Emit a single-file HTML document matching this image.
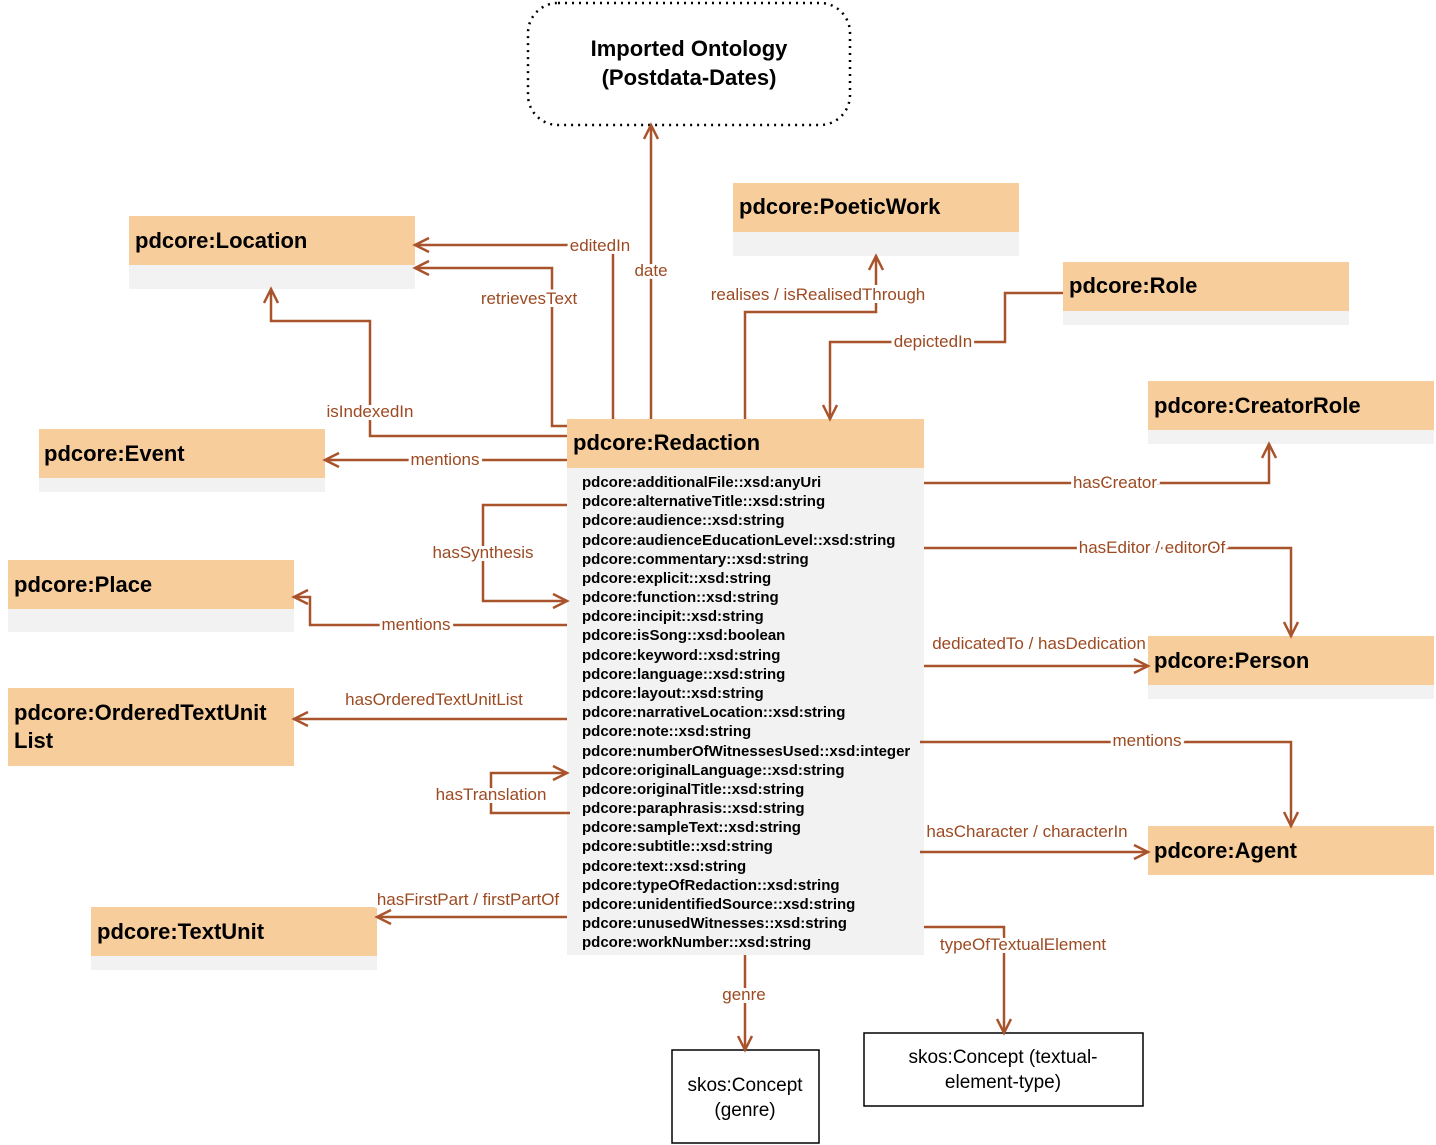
<!DOCTYPE html>
<html><head><meta charset="utf-8"><style>
body{margin:0;background:#fff}
svg{display:block;font-family:"Liberation Sans",sans-serif}
.h{font-weight:bold;font-size:22px;fill:#000}
.a{font-weight:bold;font-size:15px;fill:#000}
.l{font-size:17px;fill:#9c4a22}
.c{font-size:19px;fill:#000}
</style></head><body>
<svg width="1436" height="1145" viewBox="0 0 1436 1145" xmlns="http://www.w3.org/2000/svg">
<defs><marker id="m" markerWidth="20" markerHeight="20" refX="16" refY="8" orient="auto" markerUnits="userSpaceOnUse"><path d="M2 1 L16 8 L2 15" fill="none" stroke="#a8532c" stroke-width="2.5"/></marker></defs>
<rect x="528" y="3" width="322" height="122" rx="30" fill="#fff" stroke="#000" stroke-width="2.5" stroke-dasharray="2 5"/>
<text x="689" y="56" text-anchor="middle" class="h">Imported Ontology</text>
<text x="689" y="85" text-anchor="middle" class="h">(Postdata-Dates)</text>
<g fill="#f2f2f2">
<rect x="129" y="265" width="286" height="24"/><rect x="733" y="232" width="286" height="24"/>
<rect x="1063" y="311" width="286" height="14"/><rect x="1148" y="430" width="286" height="14"/>
<rect x="39" y="478" width="286" height="14"/><rect x="567" y="468" width="357" height="487"/>
<rect x="8" y="609" width="286" height="23"/><rect x="1148" y="685" width="286" height="14"/>
<rect x="91" y="956" width="286" height="14"/>
</g>
<g fill="#f8cd9c">
<rect x="129" y="216" width="286" height="49"/><rect x="733" y="183" width="286" height="49"/>
<rect x="1063" y="262" width="286" height="49"/><rect x="1148" y="381" width="286" height="49"/>
<rect x="39" y="429" width="286" height="49"/><rect x="567" y="419" width="357" height="49"/>
<rect x="8" y="560" width="286" height="49"/><rect x="1148" y="636" width="286" height="49"/>
<rect x="8" y="688" width="286" height="78"/><rect x="1148" y="826" width="286" height="49"/>
<rect x="91" y="907" width="286" height="49"/>
</g>
<text x="135" y="248" class="h">pdcore:Location</text>
<text x="739" y="214" class="h">pdcore:PoeticWork</text>
<text x="1069" y="293" class="h">pdcore:Role</text>
<text x="1154" y="413" class="h">pdcore:CreatorRole</text>
<text x="44" y="461" class="h">pdcore:Event</text>
<text x="573" y="450" class="h">pdcore:Redaction</text>
<text x="14" y="592" class="h">pdcore:Place</text>
<text x="1154" y="668" class="h">pdcore:Person</text>
<text x="14" y="720" class="h">pdcore:OrderedTextUnit</text>
<text x="14" y="748" class="h">List</text>
<text x="1154" y="858" class="h">pdcore:Agent</text>
<text x="97" y="939" class="h">pdcore:TextUnit</text>
<g class="a">
<text x="582" y="487" class="a">pdcore:additionalFile::xsd:anyUri</text>
<text x="582" y="506" class="a">pdcore:alternativeTitle::xsd:string</text>
<text x="582" y="525" class="a">pdcore:audience::xsd:string</text>
<text x="582" y="545" class="a">pdcore:audienceEducationLevel::xsd:string</text>
<text x="582" y="564" class="a">pdcore:commentary::xsd:string</text>
<text x="582" y="583" class="a">pdcore:explicit::xsd:string</text>
<text x="582" y="602" class="a">pdcore:function::xsd:string</text>
<text x="582" y="621" class="a">pdcore:incipit::xsd:string</text>
<text x="582" y="640" class="a">pdcore:isSong::xsd:boolean</text>
<text x="582" y="660" class="a">pdcore:keyword::xsd:string</text>
<text x="582" y="679" class="a">pdcore:language::xsd:string</text>
<text x="582" y="698" class="a">pdcore:layout::xsd:string</text>
<text x="582" y="717" class="a">pdcore:narrativeLocation::xsd:string</text>
<text x="582" y="736" class="a">pdcore:note::xsd:string</text>
<text x="582" y="756" class="a">pdcore:numberOfWitnessesUsed::xsd:integer</text>
<text x="582" y="775" class="a">pdcore:originalLanguage::xsd:string</text>
<text x="582" y="794" class="a">pdcore:originalTitle::xsd:string</text>
<text x="582" y="813" class="a">pdcore:paraphrasis::xsd:string</text>
<text x="582" y="832" class="a">pdcore:sampleText::xsd:string</text>
<text x="582" y="851" class="a">pdcore:subtitle::xsd:string</text>
<text x="582" y="871" class="a">pdcore:text::xsd:string</text>
<text x="582" y="890" class="a">pdcore:typeOfRedaction::xsd:string</text>
<text x="582" y="909" class="a">pdcore:unidentifiedSource::xsd:string</text>
<text x="582" y="928" class="a">pdcore:unusedWitnesses::xsd:string</text>
<text x="582" y="947" class="a">pdcore:workNumber::xsd:string</text>
</g>
<rect x="672" y="1050" width="147" height="93" fill="#fff" stroke="#000" stroke-width="1.5"/>
<text x="745" y="1091" text-anchor="middle" class="c">skos:Concept</text>
<text x="745" y="1116" text-anchor="middle" class="c">(genre)</text>
<rect x="864" y="1033" width="279" height="73" fill="#fff" stroke="#000" stroke-width="1.5"/>
<text x="1003" y="1063" text-anchor="middle" class="c">skos:Concept (textual-</text>
<text x="1003" y="1088" text-anchor="middle" class="c">element-type)</text>
<g fill="none" stroke="#a8532c" stroke-width="2.5" marker-end="url(#m)">
<path d="M613 419 V245 H415"/>
<path d="M567 426 H552 V268 H415"/>
<path d="M651 419 V125"/>
<path d="M745 419 V312 H876 V256"/>
<path d="M1063 293 H1005 V342 H830 V419"/>
<path d="M567 436 H370 V321 H271 V289"/>
<path d="M567 460 H325"/>
<path d="M567 505 H483 V601 H567"/>
<path d="M567 625 H310 V597 H294"/>
<path d="M567 719 H294"/>
<path d="M570 813 H491 V773 H567"/>
<path d="M567 917 H377"/>
<path d="M745 955 V1050"/>
<path d="M924 927 H1004 V1033"/>
<path d="M924 483 H1269 V444"/>
<path d="M924 548 H1291 V636"/>
<path d="M924 666 H1148"/>
<path d="M920 742 H1291 V826"/>
<path d="M920 852 H1148"/>
</g>
<g class="l" text-anchor="middle" style="paint-order:stroke" stroke="#fff" stroke-width="6">
<text x="600" y="251" class="l">editedIn</text>
<text x="529" y="304" class="l">retrievesText</text>
<text x="651" y="276" class="l">date</text>
<text x="818" y="300" class="l">realises / isRealisedThrough</text>
<text x="933" y="347" class="l">depictedIn</text>
<text x="370" y="417" class="l">isIndexedIn</text>
<text x="445" y="465" class="l">mentions</text>
<text x="483" y="558" class="l">hasSynthesis</text>
<text x="416" y="630" class="l">mentions</text>
<text x="434" y="705" class="l">hasOrderedTextUnitList</text>
<text x="491" y="800" class="l">hasTranslation</text>
<text x="468" y="905" class="l">hasFirstPart / firstPartOf</text>
<text x="744" y="1000" class="l">genre</text>
<text x="1023" y="950" class="l">typeOfTextualElement</text>
<text x="1115" y="488" class="l">hasCreator</text>
<text x="1152" y="553" class="l">hasEditor / editorOf</text>
<text x="1039" y="649" class="l">dedicatedTo / hasDedication</text>
<text x="1147" y="746" class="l">mentions</text>
<text x="1027" y="837" class="l">hasCharacter / characterIn</text>
</g>
</svg>
</body></html>
